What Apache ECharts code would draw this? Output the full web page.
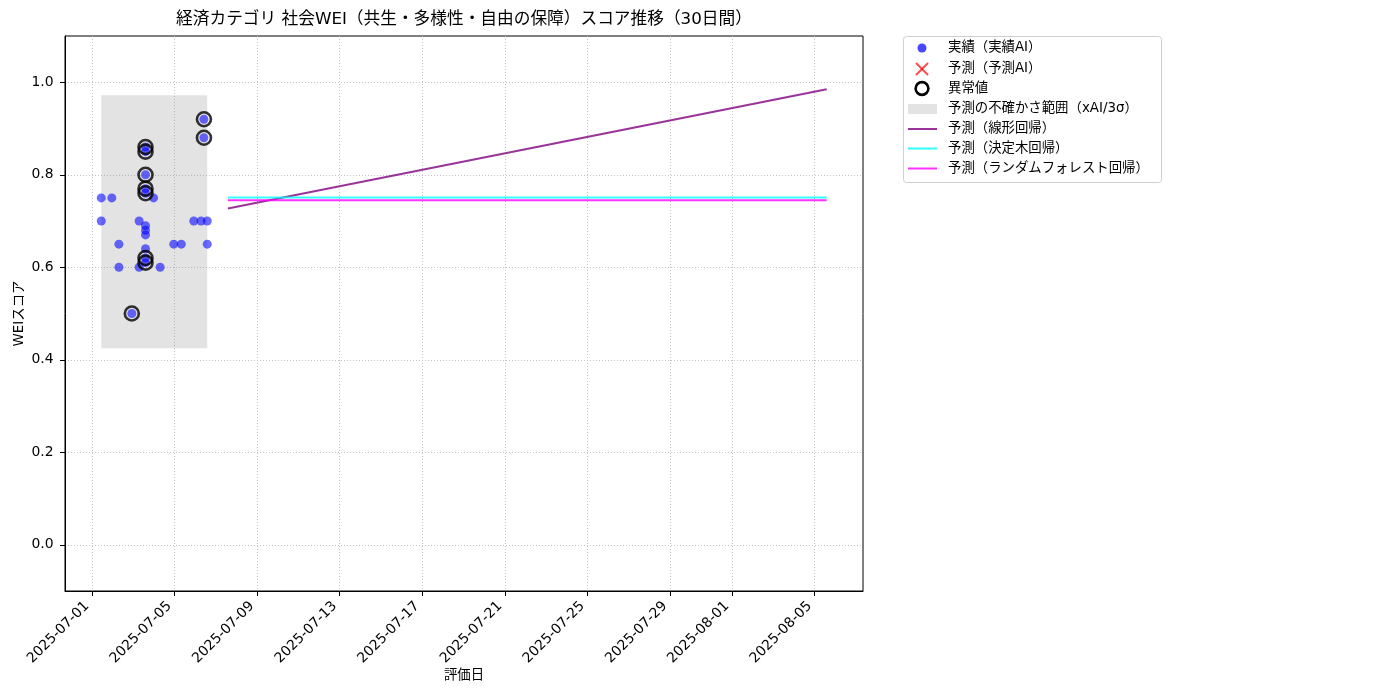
<!DOCTYPE html>
<html><head><meta charset="utf-8">
<script src="https://cdn.jsdelivr.net/npm/echarts@6/dist/echarts.min.js"></script>
<style>html,body{margin:0;padding:0;background:#fff}#c{width:1400px;height:700px}</style>
</head><body><div id="c"></div>
<script>
// ---- data ----
const actualDates = [
  '2025-07-01 11:00','2025-07-01 11:00','2025-07-01 23:15','2025-07-02 07:30','2025-07-02 07:30',
  '2025-07-02 22:30','2025-07-03 07:00','2025-07-03 07:00','2025-07-03 14:25','2025-07-03 14:25',
  '2025-07-03 14:25','2025-07-03 14:25','2025-07-03 14:25','2025-07-03 14:25','2025-07-03 14:25',
  '2025-07-03 14:25','2025-07-03 14:25','2025-07-03 14:25','2025-07-03 14:25','2025-07-03 23:45',
  '2025-07-04 07:25','2025-07-04 23:15','2025-07-05 08:00','2025-07-05 22:30','2025-07-06 07:00',
  '2025-07-06 10:20','2025-07-06 10:20','2025-07-06 14:10','2025-07-06 14:10'
];
const actualValues = [
  0.75,0.70,0.75,0.65,0.60,
  0.50,0.70,0.60,0.86,0.85,
  0.80,0.77,0.76,0.69,0.68,
  0.67,0.64,0.62,0.61,0.75,
  0.60,0.65,0.65,0.70,0.70,
  0.92,0.88,0.70,0.65
];
const outlierDates = [
  '2025-07-02 22:30','2025-07-03 14:25','2025-07-03 14:25','2025-07-03 14:25','2025-07-03 14:25',
  '2025-07-03 14:25','2025-07-03 14:25','2025-07-03 14:25','2025-07-06 10:20','2025-07-06 10:20'
];
const outlierValues = [0.50,0.86,0.85,0.80,0.77,0.76,0.62,0.61,0.92,0.88];
const bandDates = ['2025-07-01 11:00','2025-07-06 14:10'];
const bandBounds = [0.425, 0.972];
const forecastDates = ['2025-07-07 14:10','2025-08-05 14:10'];
const linearValues = [0.727, 0.985];
const treeValues = [0.751, 0.751];
const forestValues = [0.745, 0.745];
const xTickLabels = ['2025-07-01','2025-07-05','2025-07-09','2025-07-13','2025-07-17','2025-07-21','2025-07-25','2025-07-29','2025-08-01','2025-08-05'];
const yTickValues = [0.0,0.2,0.4,0.6,0.8,1.0];
const legendNames = ['実績（実績AI）','予測（予測AI）','異常値','予測の不確かさ範囲（xAI/3σ）','予測（線形回帰）','予測（決定木回帰）','予測（ランダムフォレスト回帰）'];
const titleText = '経済カテゴリ 社会WEI（共生・多様性・自由の保障）スコア推移（30日間）';

// ---- build ----
const ts = s => new Date(s.replace(' ', 'T')).getTime();
const FONT = '"DejaVu Sans", "Noto Sans CJK JP", sans-serif';
const pair = (ds, vs) => ds.map((d, i) => [ts(d), vs[i]]);
const dMin = ts(actualDates[0]);
const dMax = ts(forecastDates[forecastDates.length - 1]);
const pad = (dMax - dMin) * 0.05;
const xTicks = xTickLabels.map(d => ts(d + ' 00:00'));
const pad2 = n => (n < 10 ? '0' : '') + n;
const fmtDate = v => { const d = new Date(v); return d.getFullYear() + '-' + pad2(d.getMonth() + 1) + '-' + pad2(d.getDate()); };

const C_BLUE = 'rgba(0,0,255,0.72)';
const C_PURPLE = 'rgba(128,0,128,0.8)';
const C_CYAN = 'rgba(0,255,255,0.8)';
const C_MAGENTA = 'rgba(255,0,255,0.8)';
const C_BAND = 'rgba(128,128,128,0.22)';

const gridLine = {show: true, lineStyle: {color: '#c4c4c4', type: [1, 2], width: 1}};

const lx = 922, tx = 948;
const rowsY = [48, 69, 88.5, 109, 129, 148.5, 168.5];
const legendChildren = [
  {type: 'rect', shape: {x: 903.5, y: 36.5, width: 258, height: 146, r: 3},
   style: {fill: '#fff', stroke: '#d0d0d0', lineWidth: 1}},
  {type: 'circle', shape: {cx: lx, cy: rowsY[0], r: 4.5}, style: {fill: C_BLUE}},
  {type: 'line', shape: {x1: lx - 6, y1: rowsY[1] - 6, x2: lx + 6, y2: rowsY[1] + 6}, style: {stroke: 'rgba(255,0,0,0.7)', lineWidth: 2}},
  {type: 'line', shape: {x1: lx - 6, y1: rowsY[1] + 6, x2: lx + 6, y2: rowsY[1] - 6}, style: {stroke: 'rgba(255,0,0,0.7)', lineWidth: 2}},
  {type: 'circle', shape: {cx: lx, cy: rowsY[2], r: 6.4}, style: {fill: 'none', stroke: '#000', lineWidth: 2.6}},
  {type: 'rect', shape: {x: 908, y: rowsY[3] - 5, width: 29, height: 10}, style: {fill: C_BAND}},
  {type: 'line', shape: {x1: 908, y1: rowsY[4], x2: 937, y2: rowsY[4]}, style: {stroke: C_PURPLE, lineWidth: 2}},
  {type: 'line', shape: {x1: 908, y1: rowsY[5], x2: 937, y2: rowsY[5]}, style: {stroke: C_CYAN, lineWidth: 2}},
  {type: 'line', shape: {x1: 908, y1: rowsY[6], x2: 937, y2: rowsY[6]}, style: {stroke: C_MAGENTA, lineWidth: 2}}
];
legendNames.forEach((n, i) => legendChildren.push({
  type: 'text', x: tx, y: rowsY[i],
  style: {text: n, fill: '#000', font: '13.4px ' + FONT, textAlign: 'left', textVerticalAlign: 'middle'}
}));

const chart = echarts.init(document.getElementById('c'));
chart.setOption({
  animation: false,
  backgroundColor: '#fff',
  textStyle: {fontFamily: FONT},
  grid: {left: 65, right: 537, top: 36, bottom: 109, show: true, borderColor: '#000', borderWidth: 1, backgroundColor: 'transparent'},
  xAxis: {
    type: 'value', min: dMin - pad, max: dMax + pad, scale: true,
    axisLine: {show: true, onZero: false, lineStyle: {color: '#000', width: 1}},
    axisTick: {show: true, length: 5, lineStyle: {color: '#000'}, customValues: xTicks},
    axisLabel: {customValues: xTicks, rotate: 45, margin: 8, padding: [0, 7, 0, 0], color: '#000', fontSize: 13.9, fontFamily: FONT,
      formatter: v => fmtDate(v)},
    splitLine: gridLine,
    name: '評価日', nameLocation: 'middle', nameGap: 78, nameMoveOverlap: false,
    nameTextStyle: {color: '#000', fontSize: 13.4, fontFamily: FONT}
  },
  yAxis: {
    type: 'value', min: -0.1, max: 1.1,
    axisLine: {show: true, onZero: false, lineStyle: {color: '#000', width: 1}},
    axisTick: {show: true, length: 5, lineStyle: {color: '#000'}, customValues: yTickValues},
    axisLabel: {customValues: yTickValues, margin: 11.5, color: '#000', fontSize: 13.9, fontFamily: FONT,
      formatter: v => v.toFixed(1)},
    splitLine: gridLine,
    name: 'WEIスコア', nameLocation: 'middle', nameGap: 39, nameMoveOverlap: false,
    nameTextStyle: {color: '#000', fontSize: 13.4, fontFamily: FONT}
  },
  graphic: [
    {type: 'text', x: 464, y: 20, style: {text: titleText, fill: '#000', font: '16.7px ' + FONT, textAlign: 'center', textVerticalAlign: 'middle'}},
    {type: 'group', children: legendChildren}
  ],
  series: [
    {type: 'custom', name: legendNames[3], silent: true, z: 1,
     data: [[ts(bandDates[0]), ts(bandDates[1]), bandBounds[0], bandBounds[1]]],
     encode: {x: [0, 1], y: [2, 3]},
     renderItem: (params, api) => {
       const p0 = api.coord([api.value(0), api.value(3)]);
       const p1 = api.coord([api.value(1), api.value(2)]);
       return {type: 'rect', shape: {x: p0[0], y: p0[1], width: p1[0] - p0[0], height: p1[1] - p0[1]}, style: {fill: C_BAND}};
     }},
    {type: 'scatter', name: legendNames[0], z: 3, symbolSize: 9, itemStyle: {color: C_BLUE}, data: pair(actualDates, actualValues)},
    {type: 'scatter', name: legendNames[2], z: 4, symbolSize: 14, itemStyle: {color: 'rgba(0,0,0,0)', borderColor: '#000', borderWidth: 2.6}, data: pair(outlierDates, outlierValues)},
    {type: 'line', name: legendNames[4], z: 5, symbol: 'none', lineStyle: {color: C_PURPLE, width: 2}, data: pair(forecastDates, linearValues)},
    {type: 'line', name: legendNames[5], z: 5, symbol: 'none', lineStyle: {color: C_CYAN, width: 2}, data: pair(forecastDates, treeValues)},
    {type: 'line', name: legendNames[6], z: 5, symbol: 'none', lineStyle: {color: C_MAGENTA, width: 2}, data: pair(forecastDates, forestValues)}
  ]
});
</script></body></html>
